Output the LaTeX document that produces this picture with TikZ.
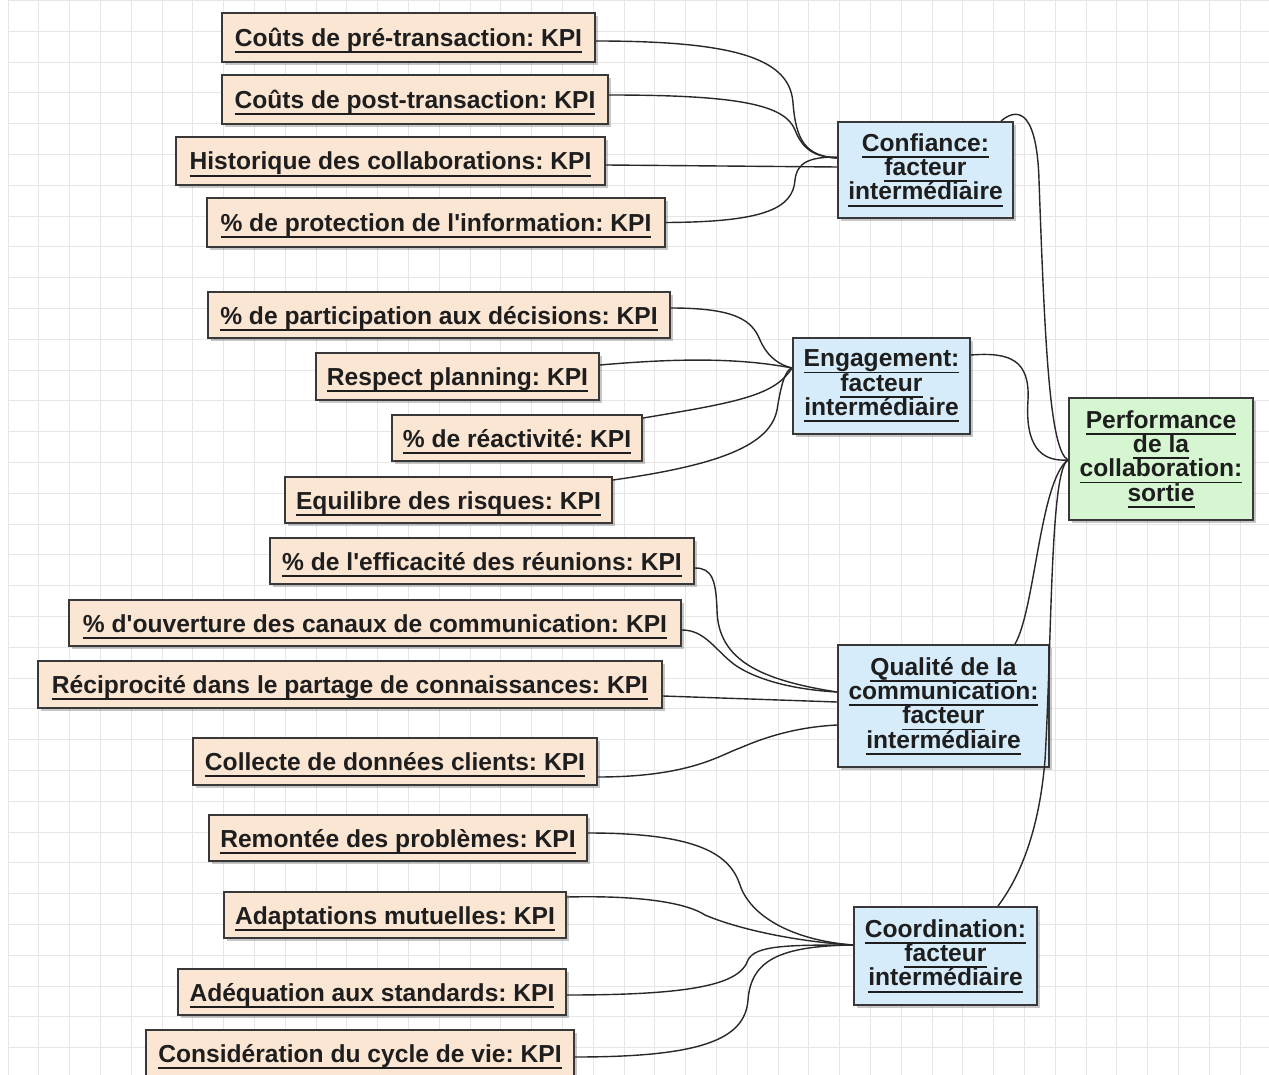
\documentclass[tikz,border=0pt]{standalone}
\usepackage{fontspec}
\setmainfont{Liberation Sans}
\newfontfamily\kfamily{Liberation Sans}
\usetikzlibrary{shadows}
\definecolor{kpifill}{RGB}{251,229,211}
\definecolor{facfill}{RGB}{214,236,250}
\definecolor{outfill}{RGB}{213,246,209}
\definecolor{boxline}{RGB}{56,56,56}
\definecolor{txtc}{RGB}{30,30,30}
\definecolor{gridc}{RGB}{230,230,230}
\definecolor{wirec}{RGB}{40,40,40}
\newcommand\ulx[1]{\setbox0\hbox{#1}\vtop{\copy0\kern-\dp0\kern4.8pt\hrule height 1.8pt}}
\newcommand\kpifont{\kfamily\fontsize{24.6pt}{24.3pt}\selectfont\bfseries\frenchspacing\lineskiplimit=-100pt\relax}
\tikzset{
  shad/.style={drop shadow={shadow xshift=3pt, shadow yshift=-3pt, opacity=0.22, fill=black}},
  kpibox/.style={shad, draw=boxline, line width=2pt, fill=kpifill, text=txtc, font=\kpifont,
    inner xsep=0pt, inner ysep=0pt, text height=26pt, text depth=8pt},
  facbox/.style={shad, draw=boxline, line width=2pt, fill=facfill, text=txtc, font=\kpifont,
    align=center, inner sep=3pt},
  outbox/.style={facbox, fill=outfill},
  wire/.style={draw=wirec, line width=1.4pt},
  gridline/.style={draw=gridc, line width=0.9pt}
}
\begin{document}
\begin{tikzpicture}[x=1pt,y=-1pt]
\useasboundingbox (0,0) rectangle (1269,1075);
\fill[white] (0,0) rectangle (1269,1075);
\foreach \i in {0,...,40} {\draw[gridline] ({8+30.8*\i},0) -- ({8+30.8*\i},1075);}
\foreach \j in {0,...,34} {\draw[gridline] (8,{0.5+30.8*\j}) -- (1269,{0.5+30.8*\j});}

% KPI nodes
\node[kpibox, minimum width=373pt, minimum height=49pt] (k1) at (408.5,37.5) {\ulx{Coûts de pré-transaction: KPI}};
\node[kpibox, minimum width=386pt, minimum height=49pt] (k2) at (415,99.5) {\ulx{Coûts de post-transaction: KPI}};
\node[kpibox, minimum width=429pt, minimum height=48pt] (k3) at (390.5,161) {\ulx{Historique des collaborations: KPI}};
\node[kpibox, minimum width=458pt, minimum height=49pt] (k4) at (436,222.5) {\ulx{\% de protection de l'information: KPI}};
\node[kpibox, minimum width=462pt, minimum height=46pt] (k5) at (439,315) {\ulx{\% de participation aux décisions: KPI}};
\node[kpibox, minimum width=283pt, minimum height=47pt] (k6) at (457.5,376.5) {\ulx{Respect planning: KPI}};
\node[kpibox, minimum width=250pt, minimum height=46pt] (k7) at (517,438) {\ulx{\% de réactivité: KPI}};
\node[kpibox, minimum width=327pt, minimum height=46pt] (k8) at (448.5,500) {\ulx{Equilibre des risques: KPI}};
\node[kpibox, minimum width=424pt, minimum height=46pt] (k9) at (482,561) {\ulx{\% de l'efficacité des réunions: KPI}};
\node[kpibox, minimum width=612pt, minimum height=46pt] (k10) at (375,623) {\ulx{\% d'ouverture des canaux de communication: KPI}};
\node[kpibox, minimum width=624pt, minimum height=47pt] (k11) at (350,684.5) {\ulx{Réciprocité dans le partage de connaissances: KPI}};
\node[kpibox, minimum width=404pt, minimum height=47pt] (k12) at (395,761.5) {\ulx{Collecte de données clients: KPI}};
\node[kpibox, minimum width=378pt, minimum height=46pt] (k13) at (398,838) {\ulx{Remontée des problèmes: KPI}};
\node[kpibox, minimum width=342pt, minimum height=46pt] (k14) at (395,915) {\ulx{Adaptations mutuelles: KPI}};
\node[kpibox, minimum width=388pt, minimum height=46pt] (k15) at (372,992) {\ulx{Adéquation aux standards: KPI}};
\node[kpibox, minimum width=428pt, minimum height=46pt] (k16) at (360,1053) {\ulx{Considération du cycle de vie: KPI}};

% factor nodes
\node[facbox, minimum width=175pt, minimum height=96pt] (cf) at (925.5,170) {\ulx{Confiance:}\\\ulx{facteur}\\\ulx{intermédiaire}};
\node[facbox, minimum width=177pt, minimum height=96pt] (eg) at (881.5,386) {\ulx{Engagement:}\\\ulx{facteur}\\\ulx{intermédiaire}};
\node[facbox, minimum width=211pt, minimum height=122pt] (qc) at (943.5,706) {\ulx{Qualité de la}\\\ulx{communication:}\\\ulx{facteur}\\\ulx{intermédiaire}};
\node[facbox, minimum width=183pt, minimum height=98pt] (cd) at (945.5,956) {\ulx{Coordination:}\\\ulx{facteur}\\\ulx{intermédiaire}};
\node[outbox, minimum width=184pt, minimum height=122pt] (pf) at (1161,459) {\ulx{Performance}\\\ulx{de la}\\\ulx{collaboration:}\\\ulx{sortie}};

% Confiance connectors
\draw[wire] ([yshift=-3.5pt]k1.east) .. controls (740,41) and (790,60) .. (793,103) .. controls (796,140) and (805,156) .. ([yshift=12pt]cf.west);
\draw[wire] ([yshift=4.5pt]k2.east) .. controls (740,95) and (785,105) .. (795,130) .. controls (803,150) and (815,157) .. ([yshift=12pt]cf.west);
\draw[wire] ([yshift=-4pt]k3.east) -- ([yshift=3pt]cf.west);
\draw[wire] (k4.east) .. controls (760,222) and (793,210) .. (795,180) .. controls (797,162) and (810,157) .. ([yshift=13pt]cf.west);

% Engagement connectors
\draw[wire] ([yshift=7pt]k5.east) .. controls (735,308) and (752,320) .. (760,340) .. controls (768,358) and (780,365) .. ([yshift=18pt]eg.west);
\draw[wire] ([yshift=11.5pt]k6.east) .. controls (680,358) and (740,358) .. ([yshift=18pt]eg.west);
\draw[wire] ([yshift=20pt]k7.east) .. controls (740,402) and (775,395) .. ([yshift=18pt]eg.west);
\draw[wire] ([yshift=20pt]k8.east) .. controls (720,465) and (770,445) .. (777,410) .. controls (781,385) and (785,370) .. ([yshift=18pt]eg.west);

% Qualite connectors
\draw[wire] ([yshift=-7pt]k9.east) .. controls (712,568) and (716,580) .. (717,610) .. controls (718,660) and (760,680) .. ([yshift=14pt]qc.west);
\draw[wire] ([yshift=-7pt]k10.east) .. controls (705,630) and (715,650) .. (735,665) .. controls (760,682) and (800,690) .. ([yshift=14pt]qc.west);
\draw[wire] ([yshift=-11.5pt]k11.east) -- ([yshift=4pt]qc.west);
\draw[wire] ([yshift=-15.5pt]k12.east) .. controls (690,777) and (720,755) .. (740,748) .. controls (770,735) and (800,727) .. ([yshift=-19pt]qc.west);

% Coordination connectors
\draw[wire] ([yshift=5pt]k13.east) .. controls (700,833) and (730,855) .. (740,885) .. controls (750,915) and (790,940) .. ([yshift=11pt]cd.west);
\draw[wire] ([yshift=18pt]k14.east) .. controls (650,895) and (690,905) .. (705,915) .. controls (740,930) and (800,942) .. ([yshift=11pt]cd.west);
\draw[wire] ([yshift=-3pt]k15.east) .. controls (690,995) and (740,985) .. (748,960) .. controls (755,945) and (790,945) .. ([yshift=11pt]cd.west);
\draw[wire] ([yshift=-4pt]k16.east) .. controls (700,1057) and (745,1040) .. (748,1000) .. controls (751,960) and (780,946) .. ([yshift=11pt]cd.west);

% Factors to Performance
\draw[wire] ([xshift=75.5pt]cf.north) .. controls (1020,105) and (1037,115) .. (1039,180) .. controls (1045,350) and (1050,450) .. ([yshift=-1pt]pf.west);
\draw[wire] ([yshift=31pt]eg.east) .. controls (1010,352) and (1030,360) .. (1028,400) .. controls (1025,445) and (1040,462) .. ([yshift=-1pt]pf.west);
\draw[wire] ([xshift=71.5pt]qc.north) .. controls (1035,610) and (1040,480) .. ([yshift=-1pt]pf.west);
\draw[wire] ([xshift=52.5pt]cd.north) .. controls (1025,870) and (1040,820) .. (1045,760) .. controls (1052,640) and (1050,470) .. ([yshift=-1pt]pf.west);
\end{tikzpicture}
\end{document}
